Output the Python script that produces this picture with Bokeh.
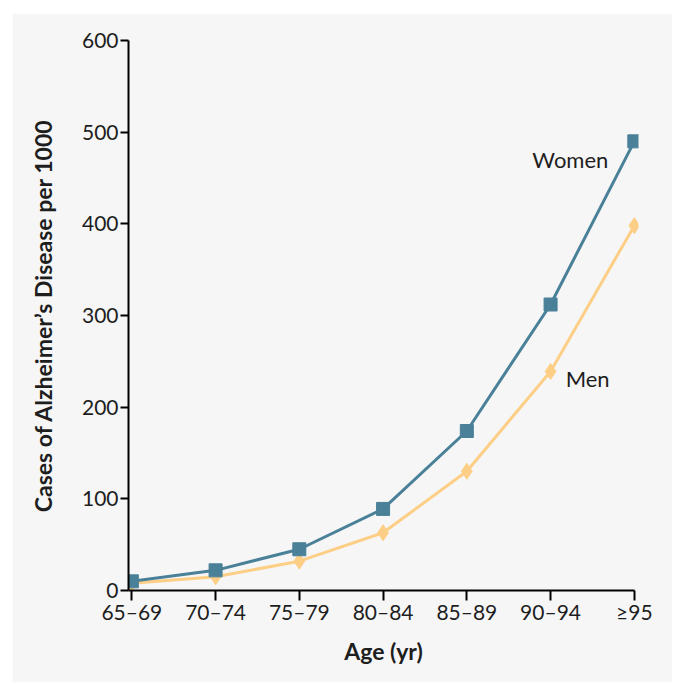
from bokeh.plotting import figure
from bokeh.models import Label, Range1d, FixedTicker
from bokeh.embed import file_html
from bokeh.resources import INLINE

age_groups = ["65\u201369", "70\u201374", "75\u201379", "80\u201384", "85\u201389", "90\u201394", "\u226595"]
women = [10, 22, 45, 89, 174, 312, 490]
men = [8, 15, 32, 63, 130, 239, 398]
y_ticks = [0, 100, 200, 300, 400, 500, 600]

FONT = "Lato"
BLUE = "#4a8098"
ORANGE = "#fdcf86"
BG = "#f6f6f6"
TXT = "#1e1e1e"

xs = list(range(len(age_groups)))

p = figure(width=660, height=669, output_backend="svg", toolbar_location=None,
           x_range=Range1d(-0.04, 6.05), y_range=Range1d(0, 600),
           min_border_left=116, min_border_right=34, min_border_top=27, min_border_bottom=92,
           background_fill_color=BG, border_fill_color=BG)
p.margin = (13, 0, 0, 12)
p.outline_line_color = None
p.grid.visible = False

p.line(xs, men, line_color=ORANGE, line_width=3)
p.scatter(xs, men, marker="diamond", size=16, fill_color=ORANGE, line_color=ORANGE)
p.line(xs, women, line_color=BLUE, line_width=3)
p.scatter(xs, women, marker="square", size=13, fill_color=BLUE, line_color=BLUE)

xa = p.xaxis[0]
xa.ticker = FixedTicker(ticks=xs)
xa.major_label_overrides = {i: lab for i, lab in enumerate(age_groups)}
xa.bounds = (-0.04, 6)
xa.axis_label = "Age (yr)"

ya = p.yaxis[0]
ya.ticker = FixedTicker(ticks=y_ticks)
ya.axis_label = "Cases of Alzheimer\u2019s Disease per 1000"

for ax in (xa, ya):
    ax.axis_line_color = "black"
    ax.axis_line_width = 2
    ax.major_tick_line_color = "black"
    ax.major_tick_line_width = 2
    ax.major_tick_in = 0
    ax.minor_tick_line_color = None
    ax.major_label_text_font = FONT
    ax.major_label_text_font_size = "21px"
    ax.major_label_text_color = TXT
    ax.axis_label_text_font = FONT
    ax.axis_label_text_font_size = "23px"
    ax.axis_label_text_font_style = "bold"
    ax.axis_label_text_color = TXT

xa.major_tick_out = 10
xa.major_label_standoff = -2
xa.axis_label_standoff = 10
ya.major_tick_out = 8
ya.major_label_standoff = 2
ya.axis_label_standoff = 22

p.add_layout(Label(x=5.69, y=470, text="Women", text_align="right", text_baseline="middle",
                   text_font=FONT, text_font_size="22px", text_color=TXT))
p.add_layout(Label(x=5.18, y=231, text="Men", text_align="left", text_baseline="middle",
                   text_font=FONT, text_font_size="22px", text_color=TXT))

open("out.html", "w").write(file_html(p, INLINE))
